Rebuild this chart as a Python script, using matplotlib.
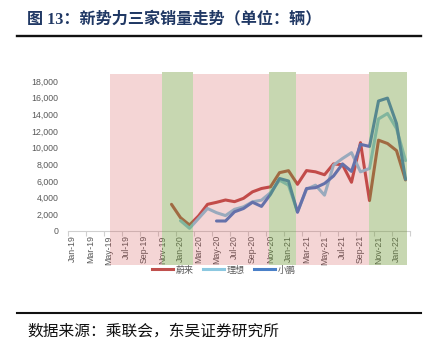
import matplotlib
matplotlib.use("Agg")
import matplotlib.pyplot as plt
import numpy as np
from matplotlib.lines import Line2D
from matplotlib.ticker import FuncFormatter, FixedLocator

# ---------------- data ----------------
months = ["Jan-19", "Feb-19", "Mar-19", "Apr-19", "May-19", "Jun-19", "Jul-19", "Aug-19",
          "Sep-19", "Oct-19", "Nov-19", "Dec-19",
          "Jan-20", "Feb-20", "Mar-20", "Apr-20", "May-20", "Jun-20", "Jul-20", "Aug-20",
          "Sep-20", "Oct-20", "Nov-20", "Dec-20",
          "Jan-21", "Feb-21", "Mar-21", "Apr-21", "May-21", "Jun-21", "Jul-21", "Aug-21",
          "Sep-21", "Oct-21", "Nov-21", "Dec-21",
          "Jan-22", "Feb-22"]

N = None
nio = [N, N, N, N, N, N, N, N, N, N, N, 3200,
       1600, 720, 1800, 3200, 3440, 3720, 3520, 3920, 4700, 5100, 5300, 7000,
       7240, 5600, 7250, 7100, 6750, 8050, 7950, 5850, 10600, 3650, 10900, 10500,
       9650, 6130]
li = [N, N, N, N, N, N, N, N, N, N, N, N,
      1240, 320, 1500, 2700, 2200, 1850, 2600, 2900, 3500, 3700, 4600, 6100,
      5500, 2300, 5000, 5500, 4300, 7900, 8700, 9400, 7100, 7500, 13450, 14100,
      12300, 8450]
xpeng = [N, N, N, N, N, N, N, N, N, N, N, N,
         N, N, N, N, 1200, 1200, 2300, 2700, 3450, 2950, 4400, 6300,
         6000, 2250, 5100, 5200, 5700, 6600, 8050, 7150, 10400, 10150, 15600, 15950,
         12900, 6200]

series_names = ["蔚来", "理想", "小鹏"]
series_colors = ["#C0504D", "#8CC8E0", "#4A80C8"]

# shaded periods (in month-index units)
pink_start = 4.17
green_periods = [(9.94, 13.39), (21.83, 24.83), (32.94, 37.17)]

title = "图 13：新势力三家销量走势（单位：辆）"
source = "数据来源：乘联会，东吴证券研究所"

# ---------------- figure ----------------
W, H = 436, 354
fig = plt.figure(figsize=(W / 100, H / 100), dpi=100)
fig.patch.set_facecolor("white")

def fx(px):
    return px / W

def fy(py):
    return 1 - py / H

ax_l, ax_r, ax_t, ax_b = 68, 410, 81, 231
ax = fig.add_axes([fx(ax_l), fy(ax_b), (ax_r - ax_l) / W, (ax_b - ax_t) / H])
ax.set_facecolor("none")

x = np.arange(len(months))
for vals, name, col in zip([nio, li, xpeng], series_names, series_colors):
    y = np.array([np.nan if v is None else v for v in vals], dtype=float)
    ax.plot(x, y, color=col, lw=2.2, label=name, solid_capstyle="round",
            solid_joinstyle="round")

ax.set_xlim(-0.5, len(months) - 0.5)
ax.set_ylim(0, 18000)
ax.set_yticks(np.arange(0, 18001, 2000))
ax.yaxis.set_major_formatter(FuncFormatter(lambda v, p: f"{int(v):,}"))
ax.tick_params(axis="y", length=0, pad=7, labelsize=6.3, labelcolor="#595959")

ax.xaxis.set_major_locator(FixedLocator(np.arange(-0.5, len(months), 2)))
ax.xaxis.set_minor_locator(FixedLocator(np.arange(0, len(months), 2)))
ax.set_xticklabels([], minor=False)
ax.set_xticklabels([months[i] for i in range(0, len(months), 2)], minor=True,
                   rotation=90, fontsize=6.3, color="#595959")
ax.tick_params(axis="x", which="major", length=3.5, color="#D0D0D0", width=0.8)
ax.tick_params(axis="x", which="minor", length=0, pad=3)
for lab in ax.get_xticklabels(minor=True):
    lab.set_fontfamily("Liberation Sans")
for lab in ax.get_yticklabels():
    lab.set_fontfamily("Liberation Sans")

for s in ["top", "right", "left"]:
    ax.spines[s].set_visible(False)
ax.spines["bottom"].set_color("#D0D0D0")
ax.spines["bottom"].set_linewidth(0.8)

# ---------------- shading overlay ----------------
ov_t, ov_b = 72, 265
ov = fig.add_axes([fx(ax_l), fy(ov_b), (ax_r - ax_l) / W, (ov_b - ov_t) / H], zorder=3)
ov.patch.set_visible(False)
ov.axis("off")
ov.set_xlim(ax.get_xlim())
ov.set_ylim(0, 1)
pink_top = (ov_b - 74) / (ov_b - ov_t)
edges = [pink_start]
for a, b in green_periods:
    edges += [a, b]
for i in range(0, len(edges) - 1, 2):
    ov.axvspan(edges[i], edges[i + 1], ymin=0, ymax=pink_top,
               color=(205 / 255, 60 / 255, 60 / 255), alpha=0.21, lw=0)
for a, b in green_periods:
    ov.axvspan(a, b, ymin=0, ymax=1, color=(110 / 255, 150 / 255, 50 / 255),
               alpha=0.38, lw=0)

# ---------------- legend ----------------
handles = [Line2D([0], [0], color=c, lw=2.2) for c in series_colors]
leg = fig.legend(handles, series_names, loc="center", bbox_to_anchor=(fx(224), fy(270)),
                 ncol=3, frameon=False, handlelength=2.3,
                 handletextpad=0.35, columnspacing=1.0,
                 prop={"family": ["Noto Sans CJK SC"], "size": 6.5})
for t in leg.get_texts():
    t.set_color("#595959")

# ---------------- title, rules and source ----------------
fig.text(fx(27), fy(19.5), title, fontsize=11.6, fontweight="bold", color="#203864",
         family=["Liberation Serif", "Noto Sans CJK SC"], va="center", ha="left")
fig.add_artist(Line2D([fx(17), fx(421)], [fy(36), fy(36)], color="#111111", lw=1.7))
fig.add_artist(Line2D([fx(17), fx(421)], [fy(313), fy(313)], color="#111111", lw=1.5))
fig.text(fx(27), fy(331), source, fontsize=11.3, color="#111111",
         family=["Noto Sans CJK SC"], va="center", ha="left")

fig.savefig("out.png", dpi=100)
